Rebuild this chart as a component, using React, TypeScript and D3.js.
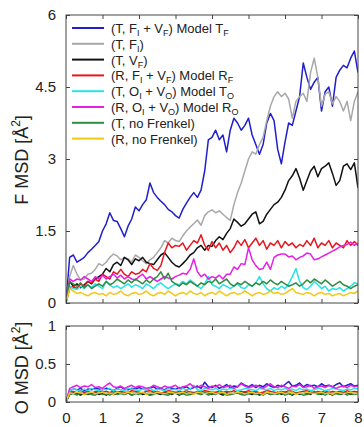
import { useEffect, useRef } from "react";
import * as d3 from "d3";

// time axis: samples every 0.1 from 0 to 8
const timeStep = 0.1;
const xTicks = [0, 1, 2, 3, 4, 5, 6, 7, 8];
const fTicks = [0, 1.5, 3, 4.5, 6];
const oTicks = [0, 0.5, 1];

const seriesLabels = [
  "(T, F_I + V_F) Model T_F",
  "(T, F_I)",
  "(T, V_F)",
  "(R, F_I + V_F) Model R_F",
  "(T, O_I + V_O) Model T_O",
  "(R, O_I + V_O) Model R_O",
  "(T, no Frenkel)",
  "(R, no Frenkel)",
];
const seriesColors = ["#1f1fcc", "#a8a8a8", "#111111", "#e8161c", "#25e3e8", "#e620e6", "#2f8c40", "#f2c814"];

// F MSD
const fBlue = [
  0, 0.95, 1.0, 0.85, 0.9, 0.95, 1.05, 1.12, 1.2, 1.28,
  1.5, 1.65, 1.88, 1.72, 1.7, 1.55, 1.38, 1.6, 1.75, 2.0,
  1.92, 2.05, 2.15, 2.5, 2.3, 2.2, 2.12, 2.05, 1.95, 1.9,
  1.82, 1.77, 1.95, 2.08, 2.2, 2.3, 2.2, 2.35, 2.75, 3.4,
  3.45, 3.6, 3.4, 3.5, 3.15, 3.6, 3.85, 3.75, 3.6, 3.7,
  3.85, 3.5, 3.3, 3.1, 3.3, 3.75, 3.95, 3.8, 3.2, 2.9,
  3.35, 3.75, 3.7, 4.0, 4.3, 5.0, 4.7, 4.45, 4.6, 4.7,
  4.0, 4.4, 4.5, 4.1, 4.7, 4.85, 4.95, 4.9, 5.1, 5.25,
  4.8,
];
const fGray = [
  0, 0.55, 0.78, 0.6, 0.48, 0.5, 0.6, 0.62, 0.7, 0.82,
  0.78, 0.85, 0.95, 1.02, 0.98, 0.9, 0.95, 0.92, 0.85, 1.0,
  0.95, 0.88, 0.82, 0.9, 0.95, 1.05, 1.15, 1.3, 1.25, 1.35,
  1.3, 1.28, 1.4, 1.5, 1.58, 1.65, 1.73, 1.62, 1.82, 1.9,
  1.94, 1.88, 1.92, 1.85, 1.78, 1.72, 2.05, 2.3, 2.5, 2.75,
  3.0, 3.15, 3.1, 3.3, 3.45, 3.8, 4.1, 4.3, 4.4, 4.3,
  4.37, 4.25, 3.85, 4.2, 4.3, 4.37, 4.2, 4.8, 5.1, 4.7,
  4.1, 4.35, 4.4, 4.15, 4.3, 4.2, 4.0, 4.2, 3.8, 4.2,
  4.4,
];
const fBlack = [
  0, 0.45, 0.35, 0.4, 0.32, 0.38, 0.45, 0.4, 0.5, 0.55,
  0.6, 0.72, 0.65, 0.8, 0.85, 0.78, 0.95, 0.9, 0.8, 0.92,
  0.88, 0.95, 0.85, 0.82, 0.8, 0.9, 1.0, 1.05, 0.95, 0.85,
  0.78, 0.75, 0.82, 0.9, 1.0, 1.05, 1.15, 1.2, 1.1, 1.2,
  1.18, 1.3, 1.38, 1.32, 1.45, 1.55, 1.75, 1.68, 1.6, 1.65,
  1.75, 1.85, 1.9, 1.65, 1.7, 1.85, 1.95, 2.05, 2.1, 2.2,
  2.35, 2.55, 2.65, 2.8, 2.6, 2.35, 2.55, 2.75, 2.85, 2.63,
  2.8, 2.85, 2.92, 2.7, 2.45, 2.55, 2.85, 2.9, 2.78, 2.92,
  2.4,
];
const fRed = [
  0, 0.3, 0.35, 0.3, 0.4, 0.35, 0.45, 0.42, 0.5, 0.45,
  0.6, 0.55, 0.5, 0.65, 0.6, 0.7, 0.6, 0.55, 0.65, 0.6,
  0.62, 0.7, 0.65, 0.82, 0.72, 0.68, 0.78, 1.05, 1.25, 1.15,
  1.2, 1.18, 1.25, 1.1, 1.2, 1.3, 1.25, 1.42, 1.2, 1.1,
  1.28, 1.15, 1.25, 1.1, 1.2, 1.05, 1.15, 1.3, 1.2, 1.32,
  1.15, 1.25, 1.35, 1.2, 1.3, 1.12, 1.25, 1.2, 1.3, 1.15,
  1.28, 1.2, 1.25, 1.15, 1.22, 1.18, 1.3, 1.2, 1.35, 1.15,
  1.25, 1.2, 1.3, 1.15, 1.25, 1.2, 1.15, 1.3, 1.2, 1.28,
  1.2,
];
const fCyan = [
  0, 0.35, 0.3, 0.28, 0.35, 0.3, 0.38, 0.32, 0.4, 0.35,
  0.3, 0.45, 0.38, 0.32, 0.36, 0.3, 0.35, 0.4, 0.33, 0.38,
  0.35, 0.3, 0.4, 0.35, 0.3, 0.38, 0.42, 0.35, 0.3, 0.35,
  0.4, 0.38, 0.45, 0.4, 0.48, 0.42, 0.35, 0.3, 0.4, 0.55,
  0.38, 0.35, 0.3, 0.38, 0.35, 0.3, 0.35, 0.4, 0.32, 0.3,
  0.38, 0.35, 0.42, 0.55, 0.4, 0.3, 0.25, 0.32, 0.28, 0.35,
  0.3, 0.4, 0.55, 0.72, 0.45, 0.32, 0.28, 0.35, 0.45, 0.38,
  0.3, 0.35, 0.25, 0.3, 0.28, 0.32, 0.25, 0.3, 0.35, 0.42,
  0.4,
];
const fMagenta = [
  0, 0.5, 0.45, 0.5, 0.48, 0.55, 0.5, 0.45, 0.55, 0.5,
  0.58, 0.5, 0.55, 0.6, 0.52, 0.58, 0.5, 0.55, 0.5, 0.48,
  0.55, 0.6, 0.5, 0.55, 0.5, 0.45, 0.5, 0.55, 0.52, 0.5,
  0.55, 0.58, 0.62, 0.6, 0.7, 0.92, 0.65, 0.55, 0.6, 0.5,
  0.55, 0.52, 0.58, 0.5, 0.6, 0.6, 0.75, 0.7, 0.82, 0.8,
  1.15, 0.9, 0.78, 0.7, 0.72, 0.85, 0.7, 0.95, 1.0, 1.02,
  1.02, 0.96, 0.98, 0.9, 0.95, 0.98, 1.04, 1.02, 0.9, 0.92,
  0.96, 1.0, 1.04, 1.08, 1.12, 1.17, 1.2, 1.22, 1.27, 1.2,
  1.25,
];
const fGreen = [
  0, 0.45, 0.4, 0.35, 0.42, 0.32, 0.38, 0.3, 0.35, 0.4,
  0.35, 0.45, 0.38, 0.42, 0.5, 0.45, 0.4, 0.48, 0.42, 0.5,
  0.45, 0.4, 0.48, 0.42, 0.5, 0.55, 0.65, 0.5, 0.62, 0.45,
  0.4, 0.35, 0.42, 0.38, 0.45, 0.4, 0.35, 0.42, 0.38, 0.45,
  0.42, 0.5, 0.4, 0.45, 0.5, 0.4, 0.35, 0.42, 0.38, 0.45,
  0.4, 0.35, 0.42, 0.38, 0.45, 0.4, 0.48, 0.42, 0.38, 0.45,
  0.4, 0.35, 0.38, 0.42, 0.35, 0.4, 0.48, 0.42, 0.5, 0.45,
  0.4, 0.48, 0.42, 0.35, 0.4, 0.45, 0.38, 0.35, 0.3, 0.35,
  0.38,
];
const fYellow = [
  0, 0.3, 0.25, 0.2, 0.22, 0.18, 0.15, 0.2, 0.22, 0.18,
  0.2, 0.15, 0.22, 0.18, 0.2, 0.25, 0.18, 0.15, 0.2, 0.22,
  0.18, 0.2, 0.25, 0.18, 0.15, 0.2, 0.22, 0.18, 0.25, 0.2,
  0.15, 0.2, 0.22, 0.18, 0.25, 0.2, 0.18, 0.22, 0.15, 0.2,
  0.22, 0.18, 0.25, 0.2, 0.15, 0.2, 0.22, 0.18, 0.2, 0.25,
  0.2, 0.15, 0.2, 0.22, 0.18, 0.2, 0.25, 0.2, 0.22, 0.18,
  0.2, 0.25, 0.3, 0.22, 0.2, 0.18, 0.22, 0.2, 0.15, 0.2,
  0.22, 0.18, 0.2, 0.15, 0.18, 0.2, 0.15, 0.18, 0.22, 0.2,
  0.25,
];

// O MSD
const oBlue = [
  0, 0.15, 0.17, 0.16, 0.18, 0.15, 0.17, 0.16, 0.18, 0.17,
  0.16, 0.18, 0.17, 0.15, 0.18, 0.2, 0.17, 0.16, 0.18, 0.17,
  0.19, 0.17, 0.16, 0.18, 0.2, 0.17, 0.18, 0.16, 0.19, 0.18,
  0.17, 0.19, 0.18, 0.2, 0.17, 0.19, 0.21, 0.18, 0.26, 0.2,
  0.19, 0.22, 0.18, 0.2, 0.23, 0.19, 0.21, 0.2, 0.25, 0.22,
  0.2, 0.23, 0.19, 0.22, 0.2, 0.24, 0.21, 0.19, 0.22, 0.2,
  0.23, 0.27, 0.21, 0.22, 0.25, 0.2, 0.23, 0.21, 0.22, 0.2,
  0.24, 0.21, 0.22, 0.2, 0.23, 0.25, 0.2, 0.22, 0.24, 0.21,
  0.22,
];
const oGray = [
  0, 0.12, 0.13, 0.11, 0.14, 0.12, 0.13, 0.12, 0.14, 0.13,
  0.12, 0.14, 0.13, 0.12, 0.14, 0.13, 0.12, 0.14, 0.13, 0.12,
  0.13, 0.11, 0.14, 0.12, 0.13, 0.14, 0.12, 0.13, 0.11, 0.13,
  0.14, 0.12, 0.13, 0.12, 0.14, 0.13, 0.11, 0.13, 0.14, 0.12,
  0.13, 0.14, 0.12, 0.13, 0.11, 0.14, 0.13, 0.12, 0.14, 0.13,
  0.12, 0.13, 0.14, 0.12, 0.13, 0.11, 0.14, 0.13, 0.12, 0.13,
  0.14, 0.12, 0.13, 0.11, 0.13, 0.14, 0.12, 0.13, 0.14, 0.12,
  0.13, 0.12, 0.14, 0.13, 0.11, 0.13, 0.14, 0.12, 0.13, 0.14,
  0.13,
];
const oBlack = [
  0, 0.1, 0.12, 0.11, 0.09, 0.12, 0.1, 0.11, 0.13, 0.1,
  0.11, 0.09, 0.12, 0.1, 0.11, 0.13, 0.1, 0.12, 0.09, 0.11,
  0.12, 0.1, 0.11, 0.09, 0.12, 0.11, 0.1, 0.13, 0.11, 0.1,
  0.12, 0.09, 0.11, 0.12, 0.1, 0.11, 0.13, 0.1, 0.12, 0.11,
  0.1, 0.12, 0.11, 0.09, 0.12, 0.1, 0.11, 0.12, 0.1, 0.13,
  0.11, 0.1, 0.12, 0.09, 0.11, 0.12, 0.1, 0.11, 0.13, 0.1,
  0.12, 0.11, 0.09, 0.12, 0.1, 0.11, 0.12, 0.1, 0.13, 0.11,
  0.1, 0.12, 0.11, 0.09, 0.12, 0.1, 0.11, 0.12, 0.1, 0.11,
  0.12,
];
const oRed = [
  0, 0.13, 0.14, 0.12, 0.15, 0.13, 0.14, 0.12, 0.13, 0.15,
  0.13, 0.14, 0.12, 0.15, 0.13, 0.14, 0.13, 0.12, 0.15, 0.14,
  0.13, 0.12, 0.14, 0.15, 0.13, 0.14, 0.12, 0.13, 0.15, 0.14,
  0.12, 0.14, 0.13, 0.15, 0.13, 0.12, 0.14, 0.13, 0.15, 0.14,
  0.13, 0.12, 0.15, 0.13, 0.14, 0.13, 0.15, 0.12, 0.14, 0.13,
  0.15, 0.13, 0.14, 0.12, 0.13, 0.15, 0.14, 0.13, 0.12, 0.14,
  0.13, 0.15, 0.14, 0.12, 0.13, 0.14, 0.15, 0.13, 0.12, 0.14,
  0.13, 0.15, 0.12, 0.14, 0.13, 0.14, 0.12, 0.15, 0.13, 0.14,
  0.13,
];
const oCyan = [
  0, 0.15, 0.17, 0.16, 0.14, 0.17, 0.15, 0.18, 0.16, 0.15,
  0.17, 0.16, 0.18, 0.15, 0.17, 0.16, 0.15, 0.18, 0.17, 0.16,
  0.15, 0.17, 0.16, 0.18, 0.15, 0.17, 0.16, 0.15, 0.18, 0.16,
  0.17, 0.15, 0.18, 0.16, 0.17, 0.22, 0.16, 0.15, 0.18, 0.17,
  0.16, 0.18, 0.15, 0.17, 0.16, 0.18, 0.17, 0.15, 0.16, 0.18,
  0.17, 0.16, 0.15, 0.18, 0.17, 0.16, 0.18, 0.15, 0.17, 0.16,
  0.18, 0.16, 0.17, 0.15, 0.18, 0.16, 0.17, 0.15, 0.16, 0.18,
  0.17, 0.15, 0.16, 0.18, 0.17, 0.16, 0.15, 0.17, 0.16, 0.18,
  0.17,
];
const oMagenta = [
  0, 0.18, 0.2, 0.22, 0.19, 0.21, 0.2, 0.23, 0.19, 0.2,
  0.18, 0.22, 0.25, 0.2, 0.19, 0.21, 0.18, 0.2, 0.22, 0.19,
  0.21, 0.2, 0.18, 0.19, 0.22, 0.2, 0.18, 0.21, 0.19, 0.2,
  0.22, 0.18, 0.2, 0.21, 0.24, 0.2, 0.19, 0.22, 0.2, 0.18,
  0.21, 0.2, 0.23, 0.19, 0.2, 0.22, 0.18, 0.2, 0.24, 0.21,
  0.19, 0.2, 0.22, 0.2, 0.18, 0.21, 0.24, 0.2, 0.19, 0.22,
  0.2, 0.18, 0.21, 0.2, 0.23, 0.19, 0.2, 0.22, 0.18, 0.2,
  0.21, 0.19, 0.22, 0.2, 0.18, 0.2, 0.21, 0.19, 0.22, 0.2,
  0.21,
];
const oGreen = [
  0, 0.1, 0.11, 0.09, 0.12, 0.1, 0.11, 0.1, 0.09, 0.12,
  0.1, 0.11, 0.09, 0.12, 0.1, 0.11, 0.1, 0.12, 0.09, 0.11,
  0.1, 0.12, 0.11, 0.09, 0.1, 0.12, 0.11, 0.1, 0.09, 0.11,
  0.12, 0.1, 0.11, 0.09, 0.1, 0.12, 0.11, 0.1, 0.12, 0.09,
  0.11, 0.1, 0.12, 0.11, 0.09, 0.1, 0.11, 0.12, 0.1, 0.09,
  0.11, 0.12, 0.1, 0.11, 0.09, 0.12, 0.1, 0.11, 0.1, 0.12,
  0.09, 0.11, 0.1, 0.12, 0.11, 0.09, 0.1, 0.11, 0.12, 0.1,
  0.11, 0.09, 0.12, 0.1, 0.11, 0.1, 0.12, 0.09, 0.11, 0.1,
  0.11,
];
const oYellow = [
  0, 0.12, 0.11, 0.13, 0.12, 0.1, 0.12, 0.13, 0.11, 0.12,
  0.13, 0.11, 0.12, 0.1, 0.13, 0.12, 0.11, 0.13, 0.12, 0.11,
  0.12, 0.13, 0.1, 0.12, 0.11, 0.13, 0.12, 0.11, 0.12, 0.13,
  0.11, 0.12, 0.13, 0.11, 0.12, 0.1, 0.13, 0.12, 0.11, 0.12,
  0.13, 0.11, 0.12, 0.13, 0.1, 0.12, 0.11, 0.13, 0.12, 0.11,
  0.12, 0.13, 0.11, 0.12, 0.1, 0.13, 0.12, 0.11, 0.12, 0.13,
  0.11, 0.12, 0.13, 0.1, 0.12, 0.11, 0.13, 0.12, 0.11, 0.12,
  0.13, 0.11, 0.12, 0.1, 0.13, 0.12, 0.11, 0.12, 0.13, 0.11,
  0.12,
];

const fSeries = [fBlue, fGray, fBlack, fRed, fCyan, fMagenta, fGreen, fYellow];
const oSeries = [oBlue, oGray, oBlack, oRed, oCyan, oMagenta, oGreen, oYellow];

const FONT = "'Liberation Sans', Arial, sans-serif";

export default function App() {
  const svgRef = useRef<SVGSVGElement | null>(null);

  useEffect(() => {
    const svgEl = svgRef.current;
    if (!svgEl) return;
    const width = 364;
    const height = 427;
    const svg = d3.select(svgEl);
    svg.selectAll("*").remove();
    svg.attr("width", width).attr("height", height);

    const x = d3.scaleLinear().domain([0, 8]).range([66, 358]);
    const yF = d3.scaleLinear().domain([0, 6]).range([303, 15]);
    const yO = d3.scaleLinear().domain([0, 1]).range([402, 326]);

    const drawPanel = (
      y: d3.ScaleLinear<number, number>,
      ticks: number[],
      data: number[][],
      id: string,
      showX: boolean
    ) => {
      const [y0, y1] = y.range();
      const g = svg.append("g");

      svg
        .append("defs")
        .append("clipPath")
        .attr("id", id)
        .append("rect")
        .attr("x", x(0))
        .attr("y", y1)
        .attr("width", x(8) - x(0))
        .attr("height", y0 - y1);

      const line = d3
        .line<number>()
        .x((_, i) => x(i * timeStep))
        .y((d) => y(d));

      const lines = g.append("g").attr("clip-path", `url(#${id})`);
      data.forEach((vals, i) => {
        lines
          .append("path")
          .datum(vals)
          .attr("fill", "none")
          .attr("stroke", seriesColors[i])
          .attr("stroke-width", 1.5)
          .attr("stroke-linejoin", "round")
          .attr("d", line);
      });

      const axes = g.append("g").attr("font-family", FONT);
      axes
        .append("g")
        .attr("transform", `translate(0,${y0})`)
        .call(
          d3
            .axisBottom(x)
            .tickValues(xTicks)
            .tickSize(-4)
            .tickPadding(10)
            .tickFormat((d) => (showX ? String(d) : ""))
        );
      axes
        .append("g")
        .attr("transform", `translate(0,${y1})`)
        .call(d3.axisTop(x).tickValues(xTicks).tickSize(-4).tickFormat(() => ""));
      axes
        .append("g")
        .attr("transform", `translate(${x(0)},0)`)
        .call(d3.axisLeft(y).tickValues(ticks).tickSize(-4).tickPadding(10).tickFormat((d) => String(d)));
      axes
        .append("g")
        .attr("transform", `translate(${x(8)},0)`)
        .call(d3.axisRight(y).tickValues(ticks).tickSize(-4).tickFormat(() => ""));

      axes.selectAll(".domain").remove();
      axes.selectAll(".tick line").attr("stroke", "#444").attr("stroke-width", 1);
      axes.selectAll(".tick text").attr("font-size", 15).attr("fill", "#222").attr("font-family", FONT);

      g.append("rect")
        .attr("x", x(0))
        .attr("y", y1)
        .attr("width", x(8) - x(0))
        .attr("height", y0 - y1)
        .attr("fill", "none")
        .attr("stroke", "#444")
        .attr("stroke-width", 1);
    };

    drawPanel(yF, fTicks, fSeries, "clipF", false);
    drawPanel(yO, oTicks, oSeries, "clipO", true);

    // y titles
    const title = (cy: number, lead: string) => {
      const t = svg
        .append("text")
        .attr("transform", `translate(28,${cy}) rotate(-90)`)
        .attr("text-anchor", "middle")
        .attr("font-family", FONT)
        .attr("font-size", 18)
        .attr("fill", "#222");
      t.append("tspan").text(`${lead} MSD [Å`);
      t.append("tspan").attr("font-size", 12).attr("dy", -8).text("2");
      t.append("tspan").attr("dy", 8).text("]");
    };
    title(160, "F");
    title(368, "O");

    // legend
    const legend = svg.append("g").attr("font-family", FONT).attr("font-size", 13).attr("fill", "#222");
    seriesLabels.forEach((label, i) => {
      const ly = 28 + i * 15.8;
      legend
        .append("line")
        .attr("x1", 72)
        .attr("x2", 104)
        .attr("y1", ly)
        .attr("y2", ly)
        .attr("stroke", seriesColors[i])
        .attr("stroke-width", 2);
      const t = legend.append("text").attr("x", 111).attr("y", ly + 5);
      const parts = label.split(/(_\w)/).filter((p) => p.length > 0);
      let shifted = false;
      parts.forEach((p) => {
        if (p.startsWith("_")) {
          t.append("tspan").attr("font-size", 9).attr("dy", shifted ? 0 : 3).text(p.slice(1));
          shifted = true;
        } else {
          t.append("tspan").attr("dy", shifted ? -3 : 0).text(p);
          shifted = false;
        }
      });
    });
  }, []);

  return (
    <div style={{ position: "absolute", left: 0, top: 0, background: "#fff" }}>
      <svg ref={svgRef} role="img" aria-label="F and O MSD" />
    </div>
  );
}
